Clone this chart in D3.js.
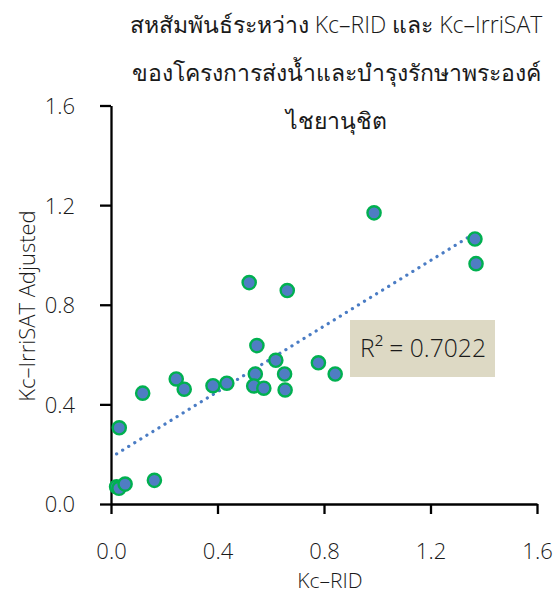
<!DOCTYPE html>
<html><head><meta charset="utf-8">
<script src="https://cdn.jsdelivr.net/npm/d3@7"></script>
<style>body{margin:0;background:#fff}svg{display:block}</style>
</head><body><svg id="c" width="556" height="594"></svg>
<script>
const titleLines = ["สหสัมพันธ์ระหว่าง Kc–RID และ Kc–IrriSAT", "ของโครงการส่งน้ำและบำรุงรักษาพระองค์", "ไชยานุชิต"];
const xLabel = "Kc–RID";
const yLabel = "Kc–IrriSAT Adjusted";
const r2Text = "R² = 0.7022";
const tickValues = [0, 0.4, 0.8, 1.2, 1.6];
const kcRID = [0.988,1.367,1.371,0.519,0.662,0.548,0.619,0.779,0.842,0.542,0.652,0.536,0.574,0.654,0.245,0.275,0.383,0.435,0.119,0.031,0.021,0.030,0.053,0.163];
const kcIrri = [1.169,1.064,0.965,0.889,0.857,0.636,0.577,0.567,0.522,0.522,0.522,0.474,0.465,0.458,0.502,0.461,0.475,0.485,0.445,0.306,0.069,0.063,0.080,0.095];

const svg = d3.select("#c");
const font = "'Open Sans', 'Noto Sans', 'DejaVu Sans', sans-serif";
const thaiFont = "'Noto Sans', 'DejaVu Sans', sans-serif";
const fw = 300;
const m = {l:111, r:537, t:105.5, b:504};
const x = d3.scaleLinear().domain([0,1.6]).range([m.l, m.r]);
const y = d3.scaleLinear().domain([0,1.6]).range([m.b, m.t]);

// title: Thai runs in a regular-weight font, Latin runs light
const tg = svg.append("g");
titleLines.forEach((line,i)=>{
  const t = tg.append("text").attr("x",336).attr("y",33+i*48).attr("text-anchor","middle")
    .attr("font-size",23).attr("fill","#1a1a1a");
  const runs = line.match(/[\u0E00-\u0E7F]+|[^\u0E00-\u0E7F]+/g);
  runs.forEach(r=>{
    const thai = /[\u0E00-\u0E7F]/.test(r);
    t.append("tspan").attr("font-family", thai ? thaiFont : font).attr("font-weight", thai ? 400 : fw).text(r);
  });
});

// trendline
const n = kcRID.length;
const mx = d3.mean(kcRID), my = d3.mean(kcIrri);
let sxy=0, sxx=0;
for(let i=0;i<n;i++){ sxy += (kcRID[i]-mx)*(kcIrri[i]-my); sxx += (kcRID[i]-mx)**2; }
const slope = sxy/sxx, intercept = my - slope*mx;
const [x0,x1] = d3.extent(kcRID);
svg.append("line")
  .attr("x1", x(x0)).attr("y1", y(intercept+slope*x0))
  .attr("x2", x(x1)).attr("y2", y(intercept+slope*x1))
  .attr("stroke","#4A7CC4").attr("stroke-width",3.2)
  .attr("stroke-linecap","round").attr("stroke-dasharray","0.1 7");

// axes
const ax = svg.append("g").attr("transform",`translate(0,${m.b})`)
  .call(d3.axisBottom(x).tickValues(tickValues).tickFormat(d3.format(".1f")).tickSize(10).tickSizeOuter(0));
const ay = svg.append("g").attr("transform",`translate(${m.l},0)`)
  .call(d3.axisLeft(y).tickValues(tickValues).tickFormat(d3.format(".1f")).tickSize(11).tickSizeOuter(0));
[ax, ay].forEach(g=>{
  g.selectAll("path,line").attr("stroke","#000").attr("stroke-width",2.3);
  g.selectAll("text").attr("font-family",font).attr("font-weight",fw).attr("font-size",22).attr("fill","#1a1a1a");
});
ax.selectAll("text").attr("y", 55).attr("dy", null);
ay.selectAll("text").attr("x", -36).attr("dy","0.36em");

// points
svg.append("g").selectAll("circle").data(kcRID).join("circle")
  .attr("cx", d=>x(d)).attr("cy", (d,i)=>y(kcIrri[i])).attr("r", 6.6)
  .attr("fill","#4F7DC3").attr("stroke","#00B050").attr("stroke-width",2.4);

// R2 box
svg.append("rect").attr("x",350).attr("y",320).attr("width",145).attr("height",57).attr("fill","#DDD9C4");
svg.append("text").attr("x",360).attr("y",357).attr("font-family",font).attr("font-weight",fw).attr("font-size",26)
  .attr("textLength",126).attr("lengthAdjust","spacingAndGlyphs").attr("fill","#1a1a1a").text(r2Text);

// axis titles
svg.append("text").attr("x",330).attr("y",588).attr("text-anchor","middle").attr("font-family",font).attr("font-weight",fw).attr("font-size",21).attr("fill","#1a1a1a").text(xLabel);
svg.append("text").attr("transform","translate(35,306) rotate(-90)").attr("text-anchor","middle").attr("font-family",font).attr("font-weight",fw).attr("font-size",22).attr("fill","#1a1a1a").text(yLabel);
</script></body></html>
